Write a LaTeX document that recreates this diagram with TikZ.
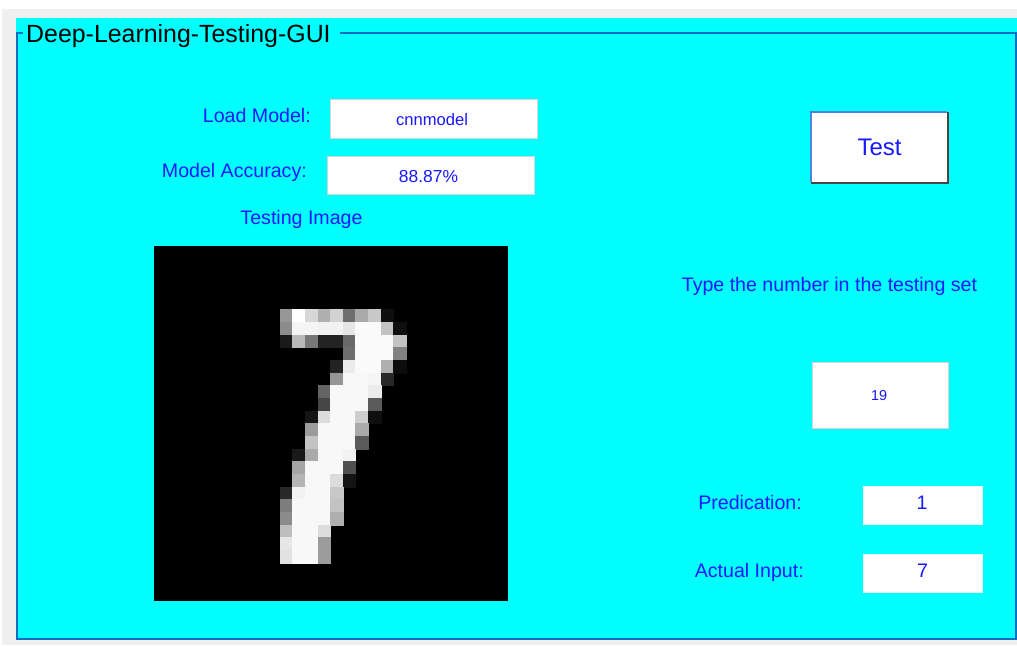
\documentclass[tikz,border=0pt]{standalone}
\usepackage{fontspec}
\setmainfont{Liberation Sans}
\definecolor{guicyan}{RGB}{0,255,255}
\definecolor{guigray}{RGB}{239,239,239}
\definecolor{guiblue}{RGB}{10,110,200}
\definecolor{txtblue}{RGB}{25,25,255}
\definecolor{boxedge}{RGB}{212,212,212}
\definecolor{btnblue}{RGB}{80,130,225}
\definecolor{btnshadow}{RGB}{70,70,70}
\tikzset{
  lbl/.style={text=txtblue, font=\fontsize{19.6}{23}\selectfont, inner sep=0},
  valtxt/.style={text=txtblue, inner sep=0},
  valbox/.style={fill=white, draw=boxedge, line width=1, inner sep=0, anchor=north west},
  plainbox/.style={fill=white, draw=white!92!cyan, line width=0.6, inner sep=0, anchor=north west},
}
\begin{document}
\begin{tikzpicture}[x=1pt,y=-1pt]
\useasboundingbox (0,0) rectangle (1017,645);
% window background
\fill[white] (0,0) rectangle (1017,645);
\fill[guigray] (2,9) rectangle (1017,645);
\fill[guicyan] (16,18) rectangle (1017,640);
% panel border with title
\draw[guiblue, line width=2] (340,33) -- (1016,33) -- (1016,639) -- (17,639) -- (17,33) -- (23,33);
\node[anchor=base west, inner sep=0, font=\fontsize{24.9}{29}\selectfont] (title) at (26,42.7) {Deep-Learning-Testing-GUI};
% labels
\node[lbl, anchor=base east] (lm) at (311,122) {Load Model:};
\node[lbl, anchor=base east] (ma) at (307,177) {Model Accuracy:};
\node[lbl, anchor=base] (ti) at (301.5,224) {Testing Image};
\node[lbl, anchor=base] (tn) at (829.5,291) {Type the number in the testing set};
\node[lbl, anchor=base east] (pr) at (802,509) {Predication:};
\node[lbl, anchor=base east] (ai) at (804,577) {Actual Input:};
% value boxes
\node[valbox, minimum width=207, minimum height=39] (cnnbox) at (330,99) {};
\node[valtxt, anchor=base, font=\fontsize{16.6}{20}\selectfont] (cnn) at (432,125) {cnnmodel};
\node[valbox, minimum width=207, minimum height=38] (accbox) at (327,156) {};
\node[valtxt, anchor=base, font=\fontsize{17.4}{20}\selectfont] (acc) at (428.5,182) {88.87\%};
\node[valbox, minimum width=136, minimum height=66] (numbox) at (812,362) {};
\node[valtxt, anchor=base, font=\fontsize{14.4}{17}\selectfont] (num) at (879,400) {19};
\node[plainbox, minimum width=119, minimum height=38] (predbox) at (863,486) {};
\node[valtxt, anchor=base, font=\fontsize{19.6}{23}\selectfont] (pred) at (922,509) {1};
\node[plainbox, minimum width=119, minimum height=38] (actbox) at (863,554) {};
\node[valtxt, anchor=base, font=\fontsize{19.6}{23}\selectfont] (act) at (922.5,577) {7};
% Test button
\node[fill=white, inner sep=0, minimum width=136, minimum height=70, anchor=north west] (testbtn) at (811,112) {};
\draw[btnblue, line width=1.2] (testbtn.south west) -- (testbtn.north west) -- (testbtn.north east);
\draw[btnshadow, line width=2] ([yshift=-1]testbtn.south west) -- ([xshift=1,yshift=-1]testbtn.south east) -- ([xshift=1]testbtn.north east);
\node[valtxt, anchor=base, font=\fontsize{24}{28}\selectfont] (testtxt) at (879.5,155.7) {Test};
% testing image
\node[fill=black, inner sep=0, minimum width=354, minimum height=355, anchor=north west] (img) at (153.3,246) {};
\foreach \c/\r/\v in {
10/5/150, 11/5/255, 12/5/215, 13/5/175, 14/5/210, 15/5/110, 16/5/170, 17/5/200, 18/5/15,
10/6/140, 11/6/245, 12/6/245, 13/6/242, 14/6/242, 15/6/230, 16/6/250, 17/6/250, 18/6/195, 19/6/15,
10/7/25, 11/7/185, 12/7/120, 13/7/35, 14/7/35, 15/7/105, 16/7/250, 17/7/250, 18/7/250, 19/7/195,
15/8/110, 16/8/250, 17/8/250, 18/8/250, 19/8/130,
14/9/35, 15/9/235, 16/9/250, 17/9/250, 18/9/175, 19/9/12,
14/10/150, 15/10/248, 16/10/248, 17/10/245, 18/10/40,
13/11/100, 14/11/248, 15/11/248, 16/11/248, 17/11/235,
13/12/70, 14/12/248, 15/12/248, 16/12/248, 17/12/90,
12/13/20, 13/13/220, 14/13/248, 15/13/248, 16/13/205, 17/13/15,
12/14/155, 13/14/248, 14/14/248, 15/14/248, 16/14/170,
12/15/195, 13/15/248, 14/15/248, 15/15/248, 16/15/90,
11/16/25, 12/16/170, 13/16/248, 14/16/248, 15/16/242,
11/17/165, 12/17/248, 13/17/248, 14/17/248, 15/17/80,
11/18/180, 12/18/248, 13/18/248, 14/18/220, 15/18/20,
10/19/40, 11/19/242, 12/19/248, 13/19/248, 14/19/200,
10/20/125, 11/20/248, 12/20/248, 13/20/248, 14/20/195,
10/21/140, 11/21/248, 12/21/248, 13/21/248, 14/21/175,
10/22/190, 11/22/248, 12/22/248, 13/22/220,
10/23/230, 11/23/248, 12/23/248, 13/23/155,
10/24/225, 11/24/248, 12/24/248, 13/24/155}
{
  \definecolor{pxc}{RGB}{\v,\v,\v}
  \fill[pxc, draw=pxc, line width=0.3] ({153.3+\c*12.643},{246+\r*12.68}) rectangle ({153.3+(\c+1)*12.643},{246+(\r+1)*12.68});
}
\end{tikzpicture}
\end{document}
